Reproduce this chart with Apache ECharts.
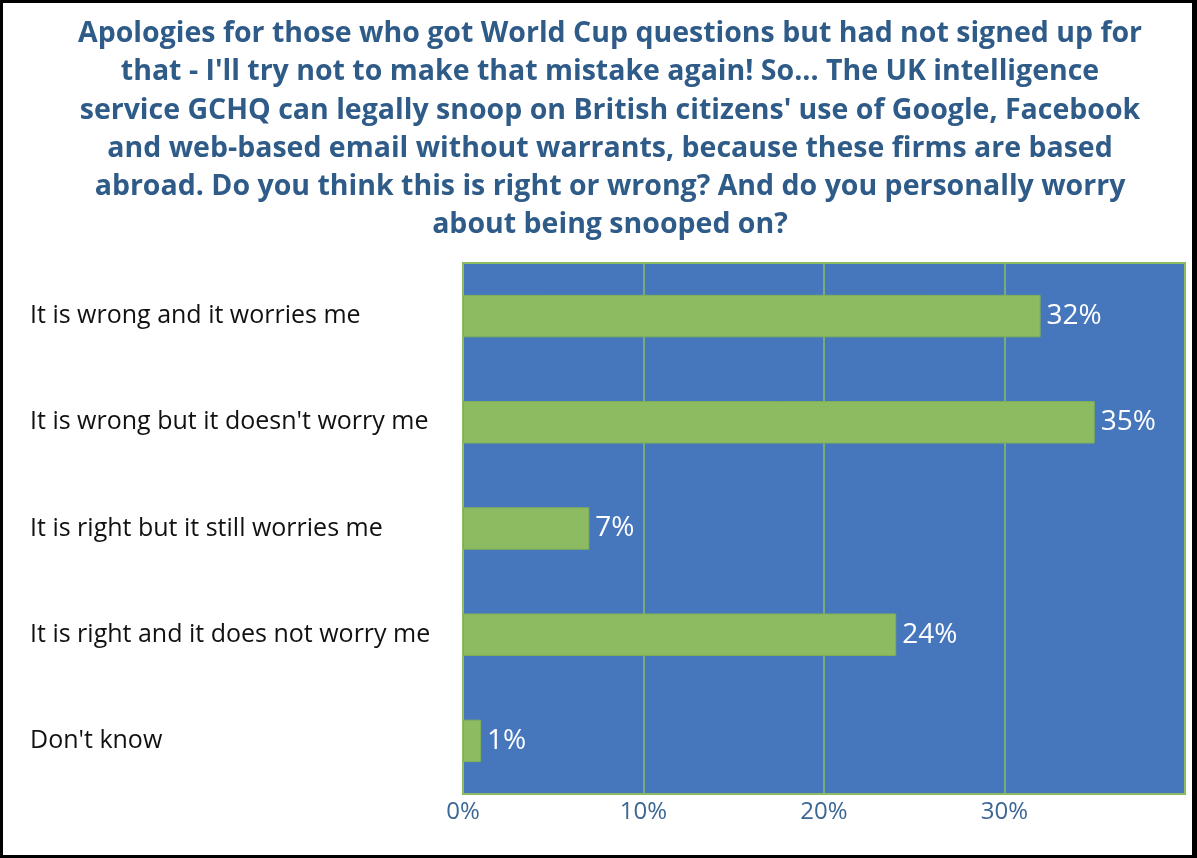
<!DOCTYPE html>
<html>
<head>
<meta charset="utf-8">
<script src="https://cdn.jsdelivr.net/npm/echarts@6/dist/echarts.min.js"></script>
<style>
  html, body { margin: 0; padding: 0; background: #fff; }
  #frame { position: absolute; left: 0; top: 0; width: 1197px; height: 858px; box-sizing: border-box; border: 3px solid #000; border-right-width: 5px; }
  #chart { position: absolute; left: 0; top: 0; width: 1197px; height: 858px; }
</style>
</head>
<body>
<div id="chart"></div>
<div id="frame"></div>
<script>
const titleLines = [
  "Apologies for those who got World Cup questions but had not signed up for",
  "that - I'll try not to make that mistake again! So... The UK intelligence",
  "service GCHQ can legally snoop on British citizens' use of Google, Facebook",
  "and web-based email without warrants, because these firms are based",
  "abroad. Do you think this is right or wrong? And do you personally worry",
  "about being snooped on?"
];
const categories = [
  "It is wrong and it worries me",
  "It is wrong but it doesn't worry me",
  "It is right but it still worries me",
  "It is right and it does not worry me",
  "Don't know"
];
const shares = [32, 35, 7, 24, 1];
const tickValues = [0, 10, 20, 30];

const chart = echarts.init(document.getElementById('chart'), null, { renderer: 'canvas' });
chart.setOption({
  animation: false,
  backgroundColor: '#fff',
  title: {
    text: titleLines.join('\n'),
    left: 605,
    textAlign: 'center',
    top: 10,
    textStyle: {
      fontFamily: 'Open Sans',
      fontWeight: 'bold',
      fontSize: 28.5,
      lineHeight: 38.2,
      color: '#2F5B88'
    }
  },
  grid: { left: 463, top: 263, width: 722, height: 531, containLabel: false },
  xAxis: {
    type: 'value',
    min: 0,
    max: 40,
    interval: 10,
    axisLine: { show: true, lineStyle: { color: '#8CBB61', width: 2 } },
    axisTick: { show: false },
    splitLine: { show: true, lineStyle: { color: '#8CBB61', width: 1.5 } },
    axisLabel: {
      margin: 6,
      fontFamily: 'Open Sans',
      fontSize: 24,
      color: '#3C6794',
      formatter: v => tickValues.includes(v) ? v + '%' : ''
    }
  },
  yAxis: {
    type: 'category',
    data: categories,
    inverse: true,
    axisLine: { show: true, lineStyle: { color: '#8CBB61', width: 2 } },
    axisTick: { show: false },
    axisLabel: {
      align: 'left',
      margin: 433,
      fontFamily: 'Open Sans',
      fontSize: 25,
      color: '#111'
    }
  },
  series: [{
    type: 'bar',
    data: shares,
    barCategoryGap: '60%',
    itemStyle: { color: '#8CBB61', borderColor: '#7FAF57', borderWidth: 1 },
    label: {
      show: true,
      position: 'right',
      distance: 6,
      formatter: p => p.value + '%',
      fontFamily: 'Open Sans',
      fontSize: 28,
      color: '#fff'
    }
  }],
  graphic: [{
    type: 'rect',
    z: -1,
    shape: { x: 463, y: 263, width: 722, height: 531 },
    style: { fill: '#4677BD', stroke: '#8CBB61', lineWidth: 2 }
  }]
});
</script>
</body>
</html>
